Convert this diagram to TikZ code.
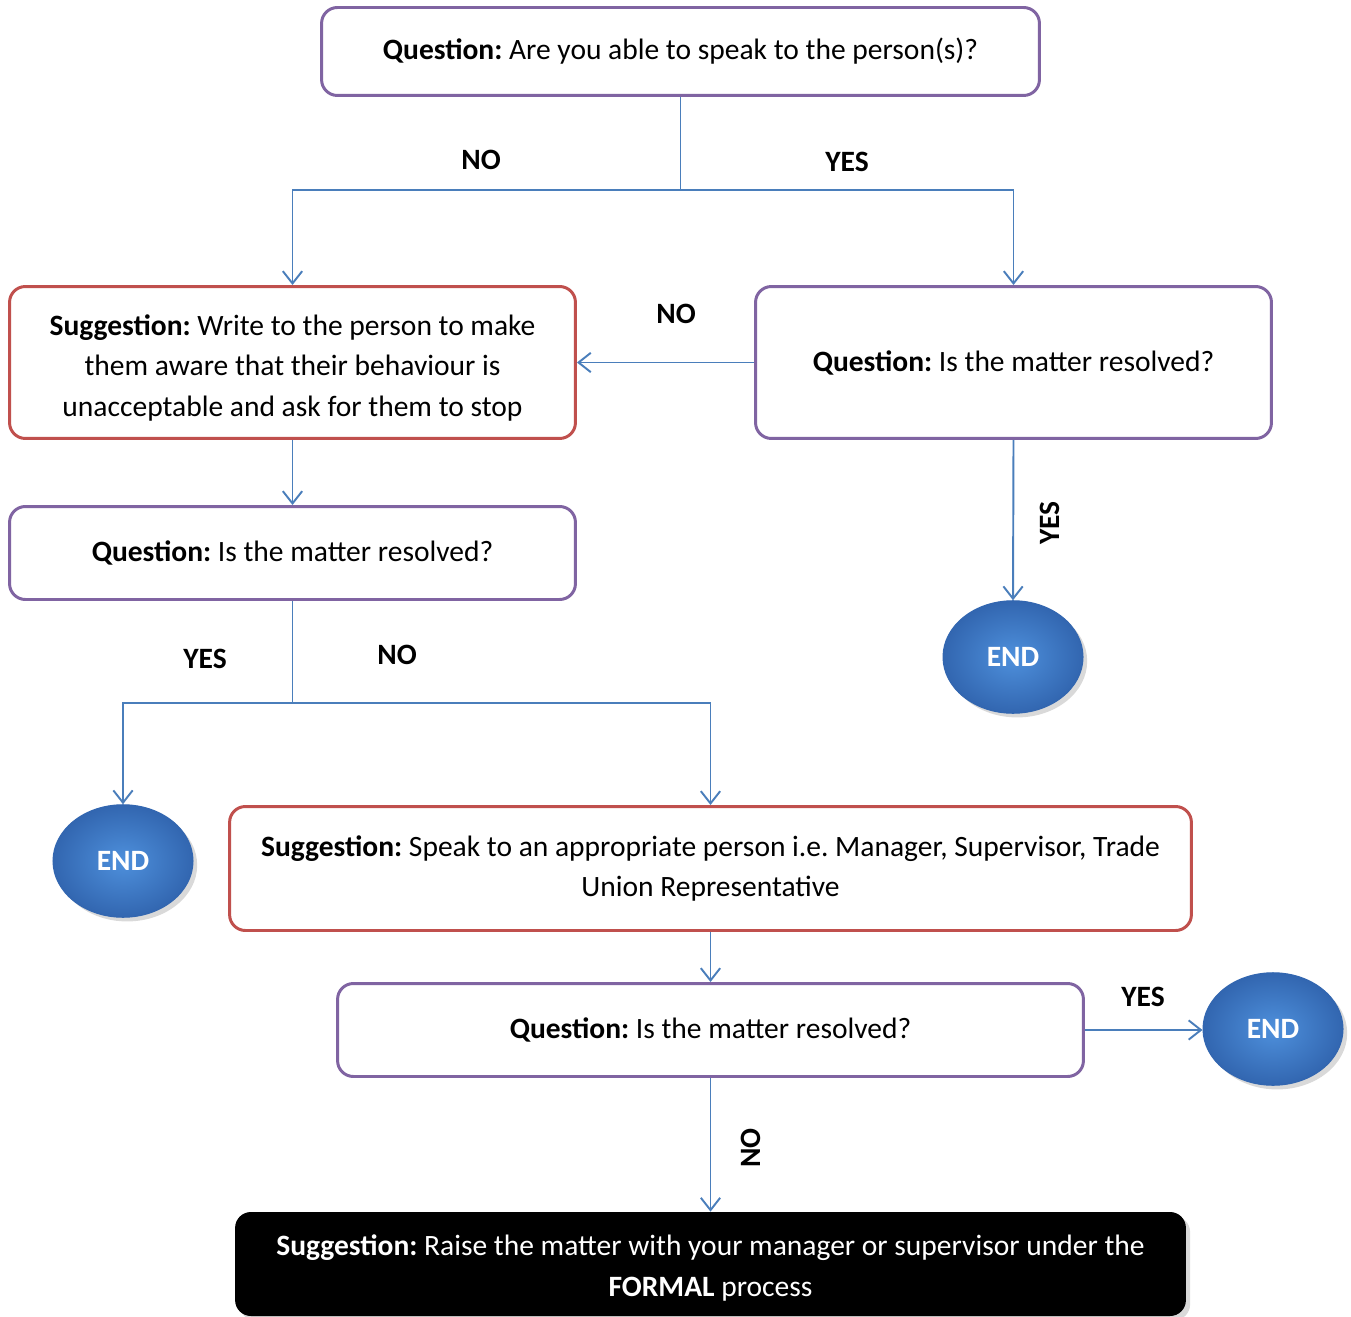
\documentclass[tikz,border=0pt]{standalone}
\usepackage{fontspec}
\setmainfont{Carlito}
\usepackage{tikz}
\usetikzlibrary{calc,shapes.geometric,shadows,arrows.meta}
\definecolor{boxpurple}{HTML}{8064A2}
\definecolor{boxred}{HTML}{C0504D}
\definecolor{linkblue}{HTML}{4A7EBB}
\definecolor{endlight}{RGB}{ 78, 144, 220 }
\definecolor{enddark}{RGB}{ 50, 102, 176 }
\newcommand{\chartfont}{\fontsize{16.8}{23.2}\selectfont\frenchspacing}

\begin{document}
\begin{tikzpicture}[x=0.02cm,y=-0.02cm,
font=\chartfont
]
    \tikzstyle{question}=[draw=boxpurple,line width=1.7pt,rounded corners=9pt,fill=white,align=center]
    \tikzstyle{suggestion}=[draw=boxred,line width=1.7pt,rounded corners=9pt,fill=white,align=center]
    \tikzstyle{formal}=[fill=black,text=white,rounded corners=9pt,align=center,drop shadow={opacity=.3}]
    \tikzstyle{end node}=[ellipse,draw=enddark,line width=.6pt,inner color=endlight,outer color=enddark,text=white,font=\chartfont\bfseries,minimum width=2.8cm,minimum height=2.25cm,drop shadow={opacity=.3}]
    \tikzstyle{link}=[draw=linkblue,line width=1.1pt]
    \tikzstyle{arrow}=[link,-{Straight Barb[length=7pt,width=11pt]}]
    \tikzstyle{answer}=[font=\chartfont\bfseries]

    \useasboundingbox (0,0) rectangle (1351,1317);

    \node(q1)[question,minimum width=14.36cm,minimum height=1.76cm] at (680.5,51.5) {\textbf{Question:} Are you able to speak to the person(s)?};
    \node(s1)[suggestion,minimum width=11.32cm,minimum height=3.04cm] at (292.5,362.5) {\rule{0pt}{18pt}\textbf{Suggestion:} Write to the person to make\\ them aware that their behaviour is\\ unacceptable and ask for them to stop};
    \node(q2)[question,minimum width=10.32cm,minimum height=3.04cm] at (1013.5,362.5) {\textbf{Question:} Is the matter resolved?};
    \node(q3)[question,minimum width=11.32cm,minimum height=1.86cm] at (292.5,553) {\textbf{Question:} Is the matter resolved?};
    \node(e1)[end node] at (1013,657) {END};
    \node(e2)[end node] at (123,861) {END};
    \node(s2)[suggestion,minimum width=19.24cm,minimum height=2.48cm] at (710.5,868.5) {\textbf{Suggestion:} Speak to an appropriate person i.e. Manager, Supervisor, Trade\\ Union Representative};
    \node(q4)[question,minimum width=14.92cm,minimum height=1.86cm] at (710.5,1030) {\textbf{Question:} Is the matter resolved?};
    \node(e3)[end node] at (1273,1029) {END};
    \node(s3)[formal,minimum width=19.02cm,minimum height=2.08cm] at (710.5,1264) {\rule{0pt}{16pt}\textbf{Suggestion:} Raise the matter with your manager or supervisor under the\\ \textbf{FORMAL} process};

    % branches
    \coordinate(j1) at (680.5,190);
    \coordinate(j2) at (292.5,703);
    \draw[link] (q1.south) -- (j1);
    \draw[arrow] (j1) -| (s1.north);
    \draw[arrow] (j1) -| (q2.north);
    \draw[arrow] (q2.west) -- (s1.east);
    \draw[arrow] (s1.south) -- (q3.north);
    \draw[arrow] (q2.south) -- (e1.north);
    \draw[link] (q3.south) -- (j2);
    \draw[arrow] (j2) -| (e2.north);
    \draw[arrow] (j2) -| (s2.north);
    \draw[arrow] (s2.south) -- (q4.north);
    \draw[arrow] (q4.east) -- (q4.east -| e3.west);
    \draw[arrow] (q4.south) -- (s3.north);

    % answers
    \node(a1)[answer] at (481,160) {NO};
    \node(a2)[answer] at (847,162) {YES};
    \node(a3)[answer] at (676,314) {NO};
    \node(a4)[answer,rotate=90] at (1050,523) {YES};
    \node(a5)[answer] at (205,659) {YES};
    \node(a6)[answer] at (397,655) {NO};
    \node(a7)[answer] at (1143,997) {YES};
    \node(a8)[answer,rotate=90] at (751,1148) {NO};
\end{tikzpicture}
\end{document}
